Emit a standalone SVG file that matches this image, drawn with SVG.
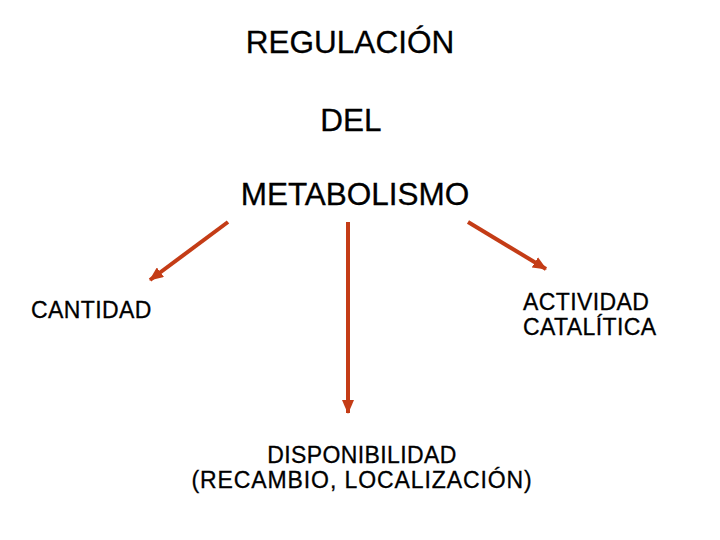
<svg xmlns="http://www.w3.org/2000/svg" width="720" height="540" viewBox="0 0 720 540">
<style>
  text { font-family: "Liberation Sans", Arial, sans-serif; fill: #000; stroke: #000; stroke-width: 0.3px; }
  .title { font-size: 31.5px; text-anchor: middle; }
  .lbl { font-size: 23px; letter-spacing: 0.4px; }
  .conn { stroke: #C43C16; stroke-width: 4; fill: none; }
</style>
<defs>
  <marker id="ah" markerUnits="userSpaceOnUse" markerWidth="14" markerHeight="12" refX="13" refY="6" orient="auto">
    <path d="M0,0 L14,6 L0,12 Z" fill="#C43C16"/>
  </marker>
</defs>
<rect width="720" height="540" fill="#fff"/>
<g id="title">
  <text class="title" x="350" y="53">REGULACIÓN</text>
  <text class="title" x="351" y="131">DEL</text>
  <text class="title" x="355" y="205">METABOLISMO</text>
</g>
<g id="cantidad">
  <text class="lbl" x="31" y="318">CANTIDAD</text>
</g>
<g id="actividad">
  <text class="lbl" x="523" y="310">ACTIVIDAD</text>
  <text class="lbl" x="523" y="335">CATALÍTICA</text>
</g>
<g id="disponibilidad">
  <text class="lbl" x="362" y="463" text-anchor="middle">DISPONIBILIDAD</text>
  <text class="lbl" x="362" y="488" text-anchor="middle" style="letter-spacing:0.9px">(RECAMBIO, LOCALIZACIÓN)</text>
</g>
<g id="connectors">
  <line class="conn" x1="228" y1="222" x2="150" y2="280" marker-end="url(#ah)"/>
  <line class="conn" x1="468" y1="222" x2="546" y2="269" marker-end="url(#ah)"/>
  <line class="conn" x1="348" y1="222" x2="348" y2="413" marker-end="url(#ah)"/>
</g>
</svg>
